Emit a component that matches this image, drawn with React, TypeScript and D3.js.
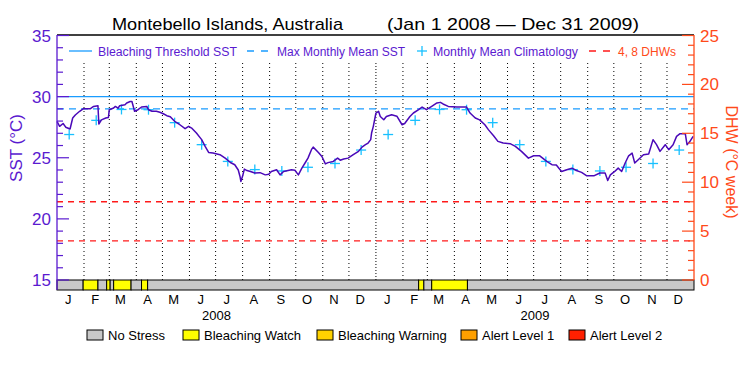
import React from "react";
import * as d3 from "d3";

// ---- data ----
const sstDays = [
  0, 3, 7, 10, 15, 18, 21, 26, 30, 38, 42, 47, 48, 51, 56, 59, 60, 65, 67, 70, 72, 78, 80, 84, 86, 89, 93, 97, 103, 105, 109, 114, 118, 122, 126, 130, 135, 141, 147, 151, 155, 160, 166, 170, 174, 179, 187, 193, 199, 204, 208, 210, 211, 213, 215, 218, 222, 227, 233, 239, 243, 246, 252, 256, 260, 269, 273, 277, 281, 285, 288, 292, 294, 300, 304, 308, 311, 317, 322, 325, 329, 334, 340, 346, 350, 354, 357, 360, 361, 363, 366, 369,
  371, 375, 378, 384, 390, 396, 399, 405, 409, 415, 419, 424, 430, 436, 440, 443, 449, 459, 470, 474, 480, 485, 491, 495, 501, 506, 512, 520, 526, 533, 541, 547, 554, 562, 568, 573, 579, 585, 591, 596, 602, 608, 616, 623, 629, 632, 635, 640, 644, 648, 652, 656, 660, 663, 667, 673, 679, 684, 688, 692, 698, 702, 707, 711, 715, 721, 723, 726, 730
];
const sstValues = [
  27.97, 27.57, 27.8, 27.5, 27.35, 28.25, 28.5, 28.8, 29.0, 29.0, 29.2, 29.26, 27.76, 28.1, 28.25, 28.3, 28.93, 29.07, 29.2, 29.05, 29.26, 29.34, 29.48, 29.6, 29.6, 28.8, 28.93, 29.15, 29.2, 28.93, 28.8, 28.8, 28.72, 28.6, 28.44, 28.35, 27.98, 27.7, 27.38, 27.57, 27.4, 27.02, 26.48, 25.93, 25.43, 25.38, 25.25, 24.97, 24.61, 24.43, 24.0, 23.47, 23.06, 23.5, 24.07, 23.95, 23.88, 23.75, 23.78, 23.6, 23.65, 23.88, 24.02, 23.6, 23.88, 24.02, 23.98, 23.6, 24.15, 24.61, 24.97, 25.66, 25.87, 25.43, 25.1, 24.5, 24.6, 24.7, 24.97, 24.8, 24.9, 24.97, 25.25, 25.52, 25.87, 26.07, 26.2, 26.48, 27.02, 27.57, 28.66, 28.8,
  28.38, 28.11, 28.38, 28.52, 28.4, 27.7, 27.8, 28.38, 28.66, 28.93, 29.15, 28.93, 29.2, 29.48, 29.53, 29.4, 29.2, 29.15, 29.15, 28.66, 28.25, 28.1, 27.7, 27.3, 26.8, 26.34, 26.2, 26.15, 25.93, 25.52, 24.97, 25.16, 25.16, 24.7, 24.43, 24.4, 23.88, 24.02, 24.15, 23.96, 23.8, 23.52, 23.52, 23.75, 23.75, 23.14, 23.6, 23.88, 24.15, 23.88, 24.57, 25.16, 25.38, 24.57, 24.84, 25.25, 25.3, 26.48, 26.07, 25.52, 26.07, 25.66, 26.07, 26.75, 26.97, 26.97, 26.07, 26.3, 26.75
];
const climatology = [26.9, 28.06, 28.95, 28.93, 27.87, 26.07, 24.7, 24.03, 23.92, 24.22, 24.53, 25.63];
const climYears = [2008, 2009];
const bleachingThreshold = 30.0;
const maxMonthlyMean = 29.0;
const dhwLevels = [4, 8];
const stressStartDays = [0, 30, 47, 57, 61, 65, 85, 97, 104, 415, 421, 430, 471];
const stressLevels = [0, 1, 0, 1, 0, 1, 0, 1, 0, 1, 0, 1, 0];
const monthLetters = ["J", "F", "M", "A", "M", "J", "J", "A", "S", "O", "N", "D"];
const yearLabels = ["2008", "2009"];
const sstTicks = [15, 20, 25, 30, 35];
const dhwTicks = [0, 5, 10, 15, 20, 25];
const stressNames = ["No Stress", "Bleaching Watch", "Bleaching Warning", "Alert Level 1", "Alert Level 2"];
const stressColors = ["#c8c8c8", "#ffff00", "#ffd200", "#ffa000", "#ff2000"];

const PURPLE = "#5a1ad0";
const LINE = "#4a08b8";
const BLUE = "#1a9cff";
const CYAN = "#18c0ff";
const RED = "#ff1a1a";
const ORANGE = "#ff4a1a";
const FONT = "'Liberation Sans', Arial, sans-serif";

const L = 57, R = 694, T = 35, B = 280, BAR_B = 290;
const TOTAL_DAYS = 731;
const dayDate = (d: number) => new Date(Date.UTC(2008, 0, 1 + d));

export default function App() {
  const x = d3.scaleUtc().domain([dayDate(0), dayDate(TOTAL_DAYS)]).range([L, R]);
  const y = d3.scaleLinear().domain([15, 35]).range([B, 35.5]);
  const yR = d3.scaleLinear().domain([0, 25]).range([B, 35.5]);

  const line = d3
    .line<number>()
    .x((_, i) => x(dayDate(sstDays[i])))
    .y((v) => y(v));

  const monthStarts = d3.utcMonth.range(dayDate(0), dayDate(TOTAL_DAYS));
  const sstMinor = d3.range(15, 36, 1);
  const dhwMinor = d3.range(0, 26, 1);

  const segments = stressStartDays.map((s, i) => ({
    s,
    e: i + 1 < stressStartDays.length ? stressStartDays[i + 1] : TOTAL_DAYS,
    lvl: stressLevels[i],
  }));

  const climPts: { d: Date; v: number }[] = [];
  climYears.forEach((yr) =>
    climatology.forEach((v, m) => climPts.push({ d: new Date(Date.UTC(yr, m, 15)), v }))
  );

  const legendBoxX = [87, 183, 317, 461, 569];

  return (
    <svg width={750} height={375} style={{ position: "absolute", left: 0, top: 0, fontFamily: FONT }}>
      <rect x={0} y={0} width={750} height={375} fill="#fff" />
      {/* title */}
      <text x={112} y={30} fontSize={17} fill="#000" textLength={231} lengthAdjust="spacingAndGlyphs">
        Montebello Islands, Australia
      </text>
      <text x={387} y={30} fontSize={17} fill="#000" textLength={252} lengthAdjust="spacingAndGlyphs">
        (Jan 1 2008 — Dec 31 2009)
      </text>

      {/* month dotted lines */}
      {monthStarts.slice(1).map((m, i) => {
        const isYear = m.getUTCMonth() === 0;
        return (
          <line
            key={"m" + i}
            x1={x(m)}
            x2={x(m)}
            y1={63}
            y2={B}
            stroke="#000"
            strokeWidth={1}
            strokeDasharray={isYear ? "1,2" : "1,3"}
          />
        );
      })}

      {/* threshold lines */}
      <line x1={L} x2={R} y1={y(bleachingThreshold)} y2={y(bleachingThreshold)} stroke={BLUE} strokeWidth={1.3} />
      <line x1={L} x2={R} y1={y(maxMonthlyMean)} y2={y(maxMonthlyMean)} stroke={BLUE} strokeWidth={1.3} strokeDasharray="7,5" />
      {dhwLevels.map((d) => (
        <line key={"dhw" + d} x1={L} x2={R} y1={yR(d)} y2={yR(d)} stroke={RED} strokeWidth={1.3} strokeDasharray="6,5" />
      ))}

      {/* climatology crosses */}
      {climPts.map((p, i) => (
        <g key={"c" + i} stroke={CYAN} strokeWidth={1.3}>
          <line x1={x(p.d) - 5} x2={x(p.d) + 5} y1={y(p.v)} y2={y(p.v)} />
          <line x1={x(p.d)} x2={x(p.d)} y1={y(p.v) - 5} y2={y(p.v) + 5} />
        </g>
      ))}

      {/* SST line */}
      <path d={line(sstValues) || ""} fill="none" stroke={LINE} strokeWidth={1.5} strokeLinejoin="round" />

      {/* stress bar */}
      {segments.map((sg, i) => (
        <rect
          key={"s" + i}
          x={x(dayDate(sg.s))}
          y={B}
          width={x(dayDate(sg.e)) - x(dayDate(sg.s))}
          height={BAR_B - B}
          fill={stressColors[sg.lvl]}
          stroke="#000"
          strokeWidth={1}
        />
      ))}

      {/* frame */}
      <line x1={L} x2={R} y1={T} y2={T} stroke="#000" strokeWidth={1.3} />
      <line x1={L} x2={L} y1={T} y2={BAR_B} stroke={PURPLE} strokeWidth={1.3} />
      <line x1={R} x2={R} y1={T} y2={B} stroke={ORANGE} strokeWidth={1.3} />

      {/* left ticks */}
      {sstMinor.map((v) => {
        const major = v % 5 === 0;
        return <line key={"lt" + v} x1={L} x2={L + (major ? 12 : 6)} y1={y(v)} y2={y(v)} stroke={PURPLE} strokeWidth={1.2} />;
      })}
      {sstTicks.map((v) => (
        <text key={"ll" + v} x={51} y={y(v) + 6} fontSize={17} fill={PURPLE} textAnchor="end">
          {v}
        </text>
      ))}
      {/* right ticks */}
      {dhwMinor.map((v) => {
        const major = v % 5 === 0;
        return <line key={"rt" + v} x1={R} x2={R - (major ? 12 : 6)} y1={yR(v)} y2={yR(v)} stroke={ORANGE} strokeWidth={1.2} />;
      })}
      {dhwTicks.map((v) => (
        <text key={"rl" + v} x={700} y={yR(v) + 6} fontSize={17} fill={ORANGE} textAnchor="start">
          {v}
        </text>
      ))}

      {/* axis titles */}
      <text transform="translate(22,148) rotate(-90)" fontSize={17} fill={PURPLE} textAnchor="middle">
        SST (°C)
      </text>
      <text transform="translate(726,162) rotate(90)" fontSize={16} fill={ORANGE} textAnchor="middle">
        DHW (°C week)
      </text>

      {/* month labels */}
      {monthStarts.map((m, i) => {
        const mid = new Date(Date.UTC(m.getUTCFullYear(), m.getUTCMonth(), 15));
        return (
          <text key={"ml" + i} x={x(mid) - 1} y={304} fontSize={13} fill="#000" textAnchor="middle">
            {monthLetters[m.getUTCMonth()]}
          </text>
        );
      })}
      {yearLabels.map((yl, i) => {
        const s = new Date(Date.UTC(+yl, 0, 1));
        const e = new Date(Date.UTC(+yl + 1, 0, 1));
        return (
          <text key={"yl" + i} x={(x(s) + x(e)) / 2} y={320} fontSize={13} fill="#000" textAnchor="middle">
            {yl}
          </text>
        );
      })}

      {/* top legend */}
      <line x1={69} x2={92} y1={51} y2={51} stroke={BLUE} strokeWidth={1.3} />
      <text x={98} y={55.5} fontSize={12.5} fill={PURPLE} textLength={139} lengthAdjust="spacingAndGlyphs">
        Bleaching Threshold SST
      </text>
      <line x1={247} x2={270} y1={51} y2={51} stroke={BLUE} strokeWidth={1.3} strokeDasharray="7,7" />
      <text x={277} y={55.5} fontSize={12.5} fill={PURPLE} textLength={128} lengthAdjust="spacingAndGlyphs">
        Max Monthly Mean SST
      </text>
      <g stroke={CYAN} strokeWidth={1.3}>
        <line x1={417} x2={427} y1={51} y2={51} />
        <line x1={422} x2={422} y1={46} y2={56} />
      </g>
      <text x={433} y={55.5} fontSize={12.5} fill={PURPLE} textLength={145} lengthAdjust="spacingAndGlyphs">
        Monthly Mean Climatology
      </text>
      <line x1={589} x2={611} y1={51} y2={51} stroke={RED} strokeWidth={1.3} strokeDasharray="7,7" />
      <text x={618} y={55.5} fontSize={12.5} fill={ORANGE} textLength={58} lengthAdjust="spacingAndGlyphs">
        4, 8 DHWs
      </text>

      {/* bottom legend */}
      {stressNames.map((n, i) => (
        <g key={"bl" + i}>
          <rect x={legendBoxX[i]} y={330} width={16} height={10} fill={stressColors[i]} stroke="#000" strokeWidth={1} />
          <text x={legendBoxX[i] + 21} y={340} fontSize={13} fill="#000">
            {n}
          </text>
        </g>
      ))}
    </svg>
  );
}
